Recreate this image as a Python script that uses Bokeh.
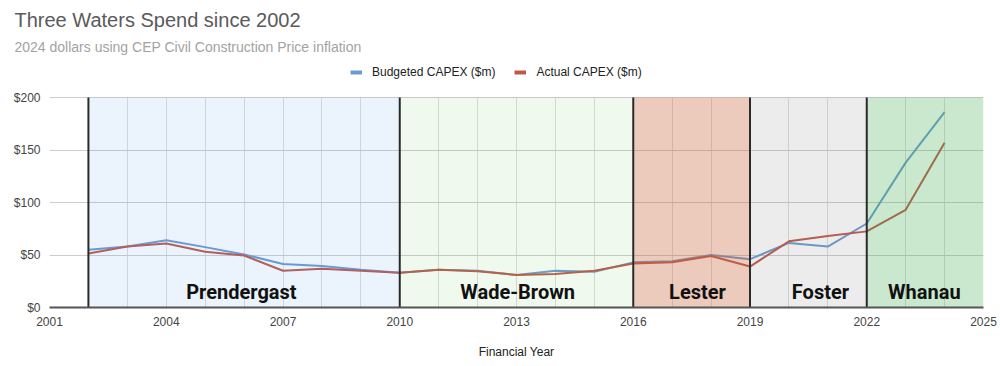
from bokeh.plotting import figure
from bokeh.models import (Label, Legend, LegendItem, FixedTicker, NumeralTickFormatter,
                          ColumnDataSource, Title)
from bokeh.embed import file_html
from bokeh.resources import INLINE

years = list(range(2002, 2025))
budgeted = [55, 58, 64, 57.5, 50.5, 41.5, 39.5, 36, 33, 36, 35, 31, 35, 34, 43, 44, 50, 46, 61.5, 58, 80, 138, 186]
actual   = [51.5, 58, 61, 53, 49.5, 35, 37, 35, 33, 36, 34.5, 31, 32, 35, 42, 43, 49, 39, 63, 68, 72.5, 93, 157]

periods = ["Prendergast", "Wade-Brown", "Lester", "Foster", "Whanau"]
period_start = [2002, 2010, 2016, 2019, 2022]
period_end = [2010, 2016, 2019, 2022, 2025]
period_colors = ["#5a9ee6", "#5fc84c", "#c8643a", "#808080", "#3fae4a"]
period_alpha = [0.12, 0.1, 0.34, 0.15, 0.28]
label_x = [2005.93, 2013.03, 2017.65, 2020.81, 2023.48]

x_ticks = list(range(2001, 2026, 3))
y_ticks = [0, 50, 100, 150, 200]
y_max = 200

W, H = 1000, 366
L, R, T, B = 49, 17, 57, 59
frame_bottom_px = H - B           # 307
plot_top_px = 97                  # where y_max sits
y_top = y_max * (frame_bottom_px - T) / (frame_bottom_px - plot_top_px)

p = figure(width=W, height=H, output_backend="svg", toolbar_location=None,
           x_range=(2001, 2025), y_range=(0, y_top),
           min_border_left=L, min_border_right=R, min_border_top=T, min_border_bottom=B,
           title="Three Waters Spend since 2002")
p.outline_line_color = None
p.background_fill_color = "white"

p.title.text_font = "Liberation Sans"
p.title.text_font_size = "20px"
p.title.text_font_style = "normal"
p.title.text_color = "#5a5a5a"
p.title.align = "left"
p.title.offset = -35
p.title.standoff = 7

sub = Title(text="2024 dollars using CEP Civil Construction Price inflation", align="left",
            offset=-35, standoff=5, text_font="Liberation Sans", text_font_size="14px",
            text_font_style="normal", text_color="#a3a3a3")
p.add_layout(sub, "above")

blue = "#6a9bd3"
red = "#c0574a"
p.line(years, budgeted, line_color=blue, line_width=2)
p.line(years, actual, line_color=red, line_width=2)

src = ColumnDataSource(dict(left=period_start, right=period_end, c=period_colors, a=period_alpha))
p.quad(left="left", right="right", bottom=0, top=y_max, fill_color="c", fill_alpha="a",
       line_color=None, source=src)
p.segment(x0=period_start, x1=period_start, y0=[0]*5, y1=[y_max]*5, line_color="#2a2a2a", line_width=2)

for name, lx in zip(periods, label_x):
    p.add_layout(Label(x=lx, y=14.3, text=name, text_align="center", text_baseline="middle",
                       text_font="Roboto", text_font_style="bold", text_font_size="20px",
                       text_color="#111111"))

# legend (inside the frame, above the plotting band); swatch renderers draw nothing
nan_series = [float("nan")] * len(years)
lb = p.line(years, nan_series, line_color=blue, line_width=4)
la = p.line(years, nan_series, line_color=red, line_width=4)
legend = Legend(items=[LegendItem(label="Budgeted CAPEX ($m)", renderers=[lb]),
                       LegendItem(label="Actual CAPEX ($m)", renderers=[la])],
                orientation="horizontal", location=(301, frame_bottom_px - 79),
                padding=0, margin=0, spacing=19, glyph_width=12, glyph_height=14, label_height=14,
                label_standoff=10, border_line_color=None, background_fill_alpha=0,
                label_text_font="Liberation Sans", label_text_font_size="12px", label_text_color="#222222")
p.add_layout(legend, "center")

# axes
p.xaxis.ticker = FixedTicker(ticks=x_ticks, minor_ticks=list(range(2001, 2026)))
p.yaxis.ticker = FixedTicker(ticks=y_ticks)
p.yaxis.formatter = NumeralTickFormatter(format="$0")
for ax in (p.xaxis, p.yaxis):
    ax.major_tick_line_color = None
    ax.minor_tick_line_color = None
    ax.major_label_text_font = "Liberation Sans"
    ax.major_label_text_font_size = "12px"
    ax.major_label_text_color = "#444444"
p.yaxis.axis_line_color = None
p.yaxis.major_label_standoff = 3
p.xaxis.axis_line_color = "#555555"
p.xaxis.axis_line_width = 2
p.xaxis.major_label_standoff = 3
p.xaxis.axis_label = "Financial Year"
p.xaxis.axis_label_text_font = "Liberation Sans"
p.xaxis.axis_label_text_font_size = "12px"
p.xaxis.axis_label_text_font_style = "normal"
p.xaxis.axis_label_text_color = "#222222"
p.xaxis.axis_label_standoff = 16

p.xgrid.grid_line_color = "#dcdcdc"
p.xgrid.minor_grid_line_color = "#dcdcdc"
p.xgrid.cross_bounds = (0, y_max)
p.ygrid.grid_line_color = "#cccccc"

open("out.html", "w").write(file_html(p, INLINE))
